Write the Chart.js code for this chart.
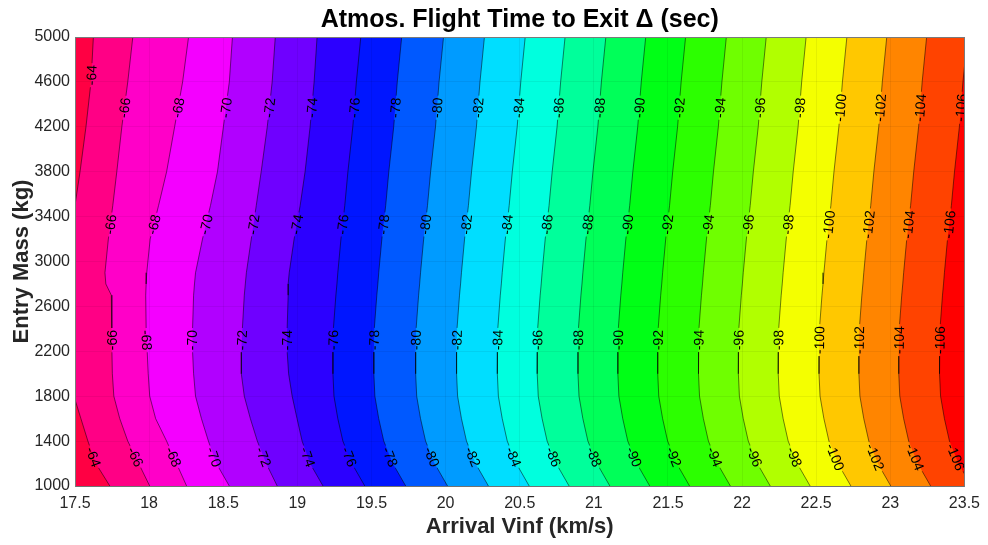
<!DOCTYPE html>
<html>
<head>
<meta charset="utf-8">
<script src="https://cdn.jsdelivr.net/npm/chart.js@4.4.1/dist/chart.umd.min.js"></script>
<style>
  html, body { margin: 0; padding: 0; background: #fff; }
</style>
</head>
<body>
<canvas id="grafico" width="988" height="545"></canvas>
<script>
// limites dos eixos
const xMin = 17.5, xMax = 23.5, yMin = 1000, yMax = 5000;
const xTicks = [17.5, 18, 18.5, 19, 19.5, 20, 20.5, 21, 21.5, 22, 22.5, 23, 23.5];
const yTicks = [1000, 1400, 1800, 2200, 2600, 3000, 3400, 3800, 4200, 4600, 5000];

// niveis das curvas de contorno
const niveis = [-64, -66, -68, -70, -72, -74, -76, -78, -80, -82, -84, -86, -88, -90, -92, -94, -96, -98, -100, -102, -104, -106];

// massa (kg) onde cada curva foi lida
const massas = [5000, 4600, 4200, 3800, 3500, 3200, 2900, 2800, 2700, 2400, 2200, 2000, 1800, 1600, 1400, 1200, 1000];

// Vinf (km/s) de cada curva, na ordem de "massas"
const linha64 = [17.624, 17.608, 17.574, 17.534, 17.500, 17.466, 17.446, 17.440, 17.436, 17.426, 17.429, 17.446, 17.493, 17.540, 17.587, 17.641, 17.735];
const linha66 = [17.890, 17.856, 17.816, 17.782, 17.755, 17.725, 17.702, 17.708, 17.745, 17.749, 17.749, 17.752, 17.762, 17.802, 17.856, 17.930, 18.004];
const linha68 = [18.266, 18.226, 18.172, 18.118, 18.064, 18.007, 17.984, 17.980, 17.977, 17.980, 17.987, 17.994, 18.004, 18.044, 18.118, 18.185, 18.253];
const linha70 = [18.562, 18.541, 18.501, 18.461, 18.414, 18.360, 18.313, 18.306, 18.300, 18.293, 18.293, 18.300, 18.313, 18.353, 18.400, 18.454, 18.541];
const linha72 = [18.851, 18.830, 18.797, 18.756, 18.723, 18.689, 18.656, 18.649, 18.642, 18.629, 18.622, 18.622, 18.642, 18.683, 18.730, 18.790, 18.864];
const linha74 = [19.133, 19.113, 19.086, 19.052, 19.019, 18.978, 18.945, 18.938, 18.938, 18.931, 18.931, 18.941, 18.965, 18.998, 19.032, 19.086, 19.173];
const linha76 = [19.428, 19.398, 19.374, 19.341, 19.320, 19.294, 19.273, 19.267, 19.260, 19.243, 19.240, 19.240, 19.247, 19.273, 19.307, 19.368, 19.455];
const linha78 = [19.704, 19.674, 19.650, 19.617, 19.596, 19.570, 19.549, 19.543, 19.536, 19.519, 19.516, 19.516, 19.523, 19.549, 19.583, 19.644, 19.731];
const linha80 = [19.986, 19.956, 19.932, 19.899, 19.878, 19.852, 19.831, 19.825, 19.818, 19.801, 19.798, 19.798, 19.805, 19.831, 19.865, 19.926, 20.013];
const linha82 = [20.262, 20.232, 20.208, 20.175, 20.154, 20.128, 20.107, 20.101, 20.094, 20.077, 20.074, 20.074, 20.081, 20.107, 20.141, 20.202, 20.289];
const linha84 = [20.537, 20.507, 20.483, 20.450, 20.429, 20.403, 20.382, 20.376, 20.369, 20.352, 20.349, 20.349, 20.356, 20.382, 20.416, 20.477, 20.564];
const linha86 = [20.806, 20.776, 20.752, 20.719, 20.698, 20.672, 20.651, 20.645, 20.638, 20.621, 20.618, 20.618, 20.625, 20.651, 20.685, 20.746, 20.833];
const linha88 = [21.081, 21.051, 21.027, 20.994, 20.973, 20.947, 20.926, 20.920, 20.913, 20.896, 20.893, 20.893, 20.900, 20.926, 20.960, 21.021, 21.108];
const linha90 = [21.350, 21.320, 21.296, 21.263, 21.242, 21.216, 21.195, 21.189, 21.182, 21.165, 21.162, 21.162, 21.169, 21.195, 21.229, 21.290, 21.377];
const linha92 = [21.619, 21.589, 21.565, 21.532, 21.511, 21.485, 21.464, 21.458, 21.451, 21.434, 21.431, 21.431, 21.438, 21.464, 21.498, 21.559, 21.646];
const linha94 = [21.894, 21.864, 21.840, 21.807, 21.786, 21.760, 21.739, 21.733, 21.726, 21.709, 21.706, 21.706, 21.713, 21.739, 21.773, 21.834, 21.921];
const linha96 = [22.163, 22.133, 22.109, 22.076, 22.055, 22.029, 22.008, 22.002, 21.995, 21.978, 21.975, 21.975, 21.982, 22.008, 22.042, 22.103, 22.190];
const linha98 = [22.432, 22.402, 22.378, 22.345, 22.324, 22.298, 22.277, 22.271, 22.264, 22.247, 22.244, 22.244, 22.251, 22.277, 22.311, 22.372, 22.459];
const linha100 = [22.707, 22.677, 22.653, 22.620, 22.599, 22.573, 22.552, 22.546, 22.539, 22.522, 22.519, 22.519, 22.526, 22.552, 22.586, 22.647, 22.734];
const linha102 = [22.976, 22.946, 22.922, 22.889, 22.868, 22.842, 22.821, 22.815, 22.808, 22.791, 22.788, 22.788, 22.795, 22.821, 22.855, 22.916, 23.003];
const linha104 = [23.245, 23.215, 23.191, 23.158, 23.137, 23.111, 23.090, 23.084, 23.077, 23.060, 23.057, 23.057, 23.064, 23.090, 23.124, 23.185, 23.272];
const linha106 = [23.520, 23.490, 23.466, 23.433, 23.412, 23.386, 23.365, 23.359, 23.352, 23.335, 23.332, 23.332, 23.339, 23.365, 23.399, 23.460, 23.547];

const linhas = [linha64, linha66, linha68, linha70, linha72, linha74, linha76, linha78, linha80, linha82, linha84,
  linha86, linha88, linha90, linha92, linha94, linha96, linha98, linha100, linha102, linha104, linha106];

// posicao (massa) dos rotulos das curvas
const rotuloMassas = [4370, 3330, 2300, 1260];
const rotulo64Massas = [4660, 1260];

// colormap hsv: faixa 0 = abaixo de -106 (vermelho) ... faixa 22 = acima de -64
const corFaixa = f => `hsl(${(f / 23) * 360}, 100%, 50%)`;

const pontos = xs => xs.map((x, i) => ({ x: x, y: massas[i] }));

const datasets = [];
// curvas (traço preto)
linhas.forEach(xs => datasets.push({
  data: pontos(xs),
  showLine: true, fill: false,
  borderColor: 'rgba(0,0,0,0.85)', borderWidth: 0.6,
  pointRadius: 0, pointHoverRadius: 0
}));
// preenchimentos: cada curva pinta até a borda esquerda, a mais à esquerda por cima
linhas.forEach((xs, k) => datasets.push({
  data: pontos(xs).concat([{ x: xMin, y: yMin }, { x: xMin, y: yMax }]),
  showLine: true, fill: 'shape',
  backgroundColor: corFaixa(22 - k), borderColor: 'transparent', borderWidth: 0,
  pointRadius: 0, pointHoverRadius: 0
}));
// fundo (valores abaixo de -106)
datasets.push({
  data: [{ x: xMin, y: yMin }, { x: xMax, y: yMin }, { x: xMax, y: yMax }, { x: xMin, y: yMax }],
  showLine: true, fill: 'shape',
  backgroundColor: corFaixa(0), borderColor: 'transparent', borderWidth: 0,
  pointRadius: 0, pointHoverRadius: 0
});

const rotulos = [];
rotulo64Massas.forEach(m => rotulos.push([-64, m]));
niveis.slice(1).forEach(n => rotuloMassas.forEach(m => rotulos.push([n, m])));

const fonteRotulo = '14px "Liberation Sans", Arial, sans-serif';

// posicao e angulo de cada rotulo sobre a sua curva
function geometriaRotulos(chart) {
  const { x, y } = chart.scales;
  return rotulos.map(([nivel, massa]) => {
    const xs = linhas[niveis.indexOf(nivel)];
    let i = 0;
    while (i < massas.length - 2 && massas[i + 1] > massa) i++;
    const t = (massas[i] - massa) / (massas[i] - massas[i + 1]);
    const vx = xs[i] + t * (xs[i + 1] - xs[i]);
    const dx = x.getPixelForValue(xs[i + 1]) - x.getPixelForValue(xs[i]);
    const dy = y.getPixelForValue(massas[i + 1]) - y.getPixelForValue(massas[i]);
    let ang = Math.atan2(dy, dx);
    if (ang >= Math.PI / 2 - 1e-6) ang -= Math.PI;
    if (ang < -Math.PI / 2) ang += Math.PI;
    return { texto: String(nivel), px: x.getPixelForValue(vx), py: y.getPixelForValue(massa), ang: ang };
  });
}

// abre uma falha na curva sob cada rotulo (so nos datasets de linha) e escreve o texto
const rotulosPlugin = {
  id: 'rotulos',
  beforeDatasetDraw(chart, args) {
    if (args.index >= linhas.length) return;
    const { ctx, chartArea: a } = chart;
    ctx.save();
    ctx.font = fonteRotulo;
    ctx.beginPath();
    ctx.rect(a.left - 5, a.top - 5, a.width + 10, a.height + 10);
    geometriaRotulos(chart).forEach(r => {
      const w = ctx.measureText(r.texto).width / 2 + 2, h = 6;
      const c = Math.cos(r.ang), s = Math.sin(r.ang);
      [[-w, -h], [w, -h], [w, h], [-w, h]].forEach(([u, v], j) => {
        const qx = r.px + u * c - v * s, qy = r.py + u * s + v * c;
        if (j === 0) ctx.moveTo(qx, qy); else ctx.lineTo(qx, qy);
      });
      ctx.closePath();
    });
    ctx.clip('evenodd');
  },
  afterDatasetDraw(chart, args) {
    if (args.index >= linhas.length) return;
    chart.ctx.restore();
  },
  afterDatasetsDraw(chart) {
    const { ctx, chartArea: a } = chart;
    ctx.save();
    ctx.beginPath();
    ctx.rect(a.left, a.top, a.width, a.height);
    ctx.clip();
    ctx.font = fonteRotulo;
    ctx.fillStyle = '#000';
    ctx.textAlign = 'center';
    ctx.textBaseline = 'middle';
    geometriaRotulos(chart).forEach(r => {
      ctx.save();
      ctx.translate(r.px, r.py);
      ctx.rotate(r.ang);
      ctx.fillText(r.texto, 0, 1);
      ctx.restore();
    });
    ctx.restore();
  }
};

const fonteEixo = { family: '"Liberation Sans", Arial, sans-serif', size: 16 };
const fonteTitulo = { family: '"Liberation Sans", Arial, sans-serif', size: 22, weight: 'bold' };
const corMoldura = '#7a7a7a';
const corGrade = 'rgba(0,0,0,0.06)';

new Chart(document.getElementById('grafico').getContext('2d'), {
  type: 'scatter',
  data: { datasets: datasets },
  options: {
    responsive: false,
    animation: false,
    events: [],
    layout: { padding: 0 },
    scales: {
      x: {
        type: 'linear', position: 'bottom', min: xMin, max: xMax,
        afterBuildTicks: s => { s.ticks = xTicks.map(v => ({ value: v })); },
        ticks: { font: fonteEixo, color: '#262626', padding: 8, maxRotation: 0, autoSkip: false, callback: v => String(v) },
        grid: { color: corGrade, drawTicks: false, z: 1 },
        border: { display: true, color: corMoldura, z: 1 },
        title: { display: true, text: 'Arrival Vinf (km/s)', font: fonteTitulo, color: '#262626', padding: { top: 0, bottom: 5 } },
        afterFit: s => { s.height = 59; }
      },
      y: {
        type: 'linear', position: 'left', min: yMin, max: yMax,
        afterBuildTicks: s => { s.ticks = yTicks.map(v => ({ value: v })); },
        ticks: { font: fonteEixo, color: '#262626', padding: 5, autoSkip: false, callback: v => String(v) },
        grid: { color: corGrade, drawTicks: false, z: 1 },
        border: { display: true, color: corMoldura, z: 1 },
        title: { display: true, text: 'Entry Mass (kg)', font: fonteTitulo, color: '#262626', padding: { top: 9, bottom: 0 } },
        afterFit: s => { s.width = 75; }
      },
      x2: {
        type: 'linear', position: 'top', min: xMin, max: xMax,
        ticks: { display: false },
        grid: { display: false, drawTicks: false },
        border: { display: true, color: corMoldura, z: 1 },
        title: { display: true, text: 'Atmos. Flight Time to Exit Δ (sec)', color: '#000',
          font: { family: '"Liberation Sans", Arial, sans-serif', size: 25, weight: 'bold' }, padding: { top: 5, bottom: 0 } },
        afterFit: s => { s.height = 37; }
      },
      y2: {
        type: 'linear', position: 'right', min: yMin, max: yMax,
        ticks: { display: false },
        grid: { display: false, drawTicks: false },
        border: { display: true, color: corMoldura, z: 1 },
        afterFit: s => { s.width = 20; }
      }
    },
    plugins: {
      legend: { display: false },
      tooltip: { enabled: false }
    }
  },
  plugins: [rotulosPlugin]
});
</script>
</body>
</html>
